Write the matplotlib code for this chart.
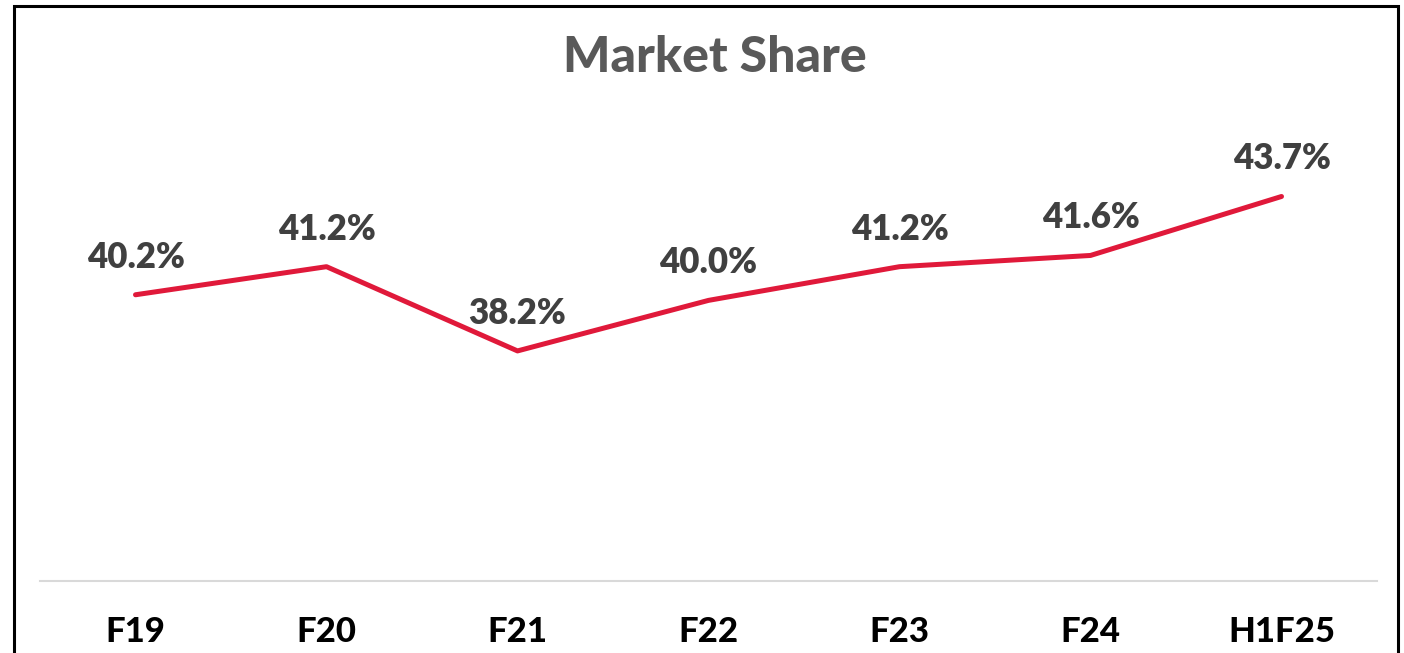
import matplotlib
matplotlib.use("Agg")
import matplotlib.pyplot as plt
from matplotlib.patches import Rectangle

periods = ["F19", "F20", "F21", "F22", "F23", "F24", "H1F25"]
share = [40.2, 41.2, 38.2, 40.0, 41.2, 41.6, 43.7]

RED = "#E0193A"
LABEL_GREY = "#404040"
TITLE_GREY = "#595959"
FONT = "Lato"

fig = plt.figure(figsize=(14.04, 6.53), dpi=100)
ax = fig.add_axes([40 / 1404, 0.110, 1337 / 1404, 0.645])

x = list(range(len(periods)))
ax.plot(x, share, color=RED, lw=3.6, solid_capstyle="round", solid_joinstyle="round")
for xi, v in zip(x, share):
    ax.annotate(f"{v:.1f}%", (xi, v), xytext=(0, 27), textcoords="offset points",
                ha="center", va="center", fontsize=25, fontweight="heavy",
                color=LABEL_GREY, family=FONT)

ax.set_xlim(-0.5, len(periods) - 0.5)
ax.set_ylim(30, 45)
ax.set_xticks(x)
ax.set_xticklabels(periods, fontsize=25, fontweight="black", family=FONT)
ax.tick_params(axis="x", length=0, pad=25)
ax.set_yticks([])
for side in ("left", "right", "top"):
    ax.spines[side].set_visible(False)
ax.spines["bottom"].set_color("#d9d9d9")
ax.spines["bottom"].set_linewidth(1.5)

fig.text(0.509, 1 - 58 / 653, "Market Share", ha="center", va="center",
         fontsize=36, fontweight="black", color=TITLE_GREY, family=FONT)

# outer frame (bottom edge runs off the image)
fig.patches.append(Rectangle((14 / 1404, -0.05), 1384 / 1404, 1.05 - 6 / 653,
                             transform=fig.transFigure, fill=False,
                             edgecolor="black", lw=2.2, clip_on=False))

fig.savefig("out.png", dpi=100)
